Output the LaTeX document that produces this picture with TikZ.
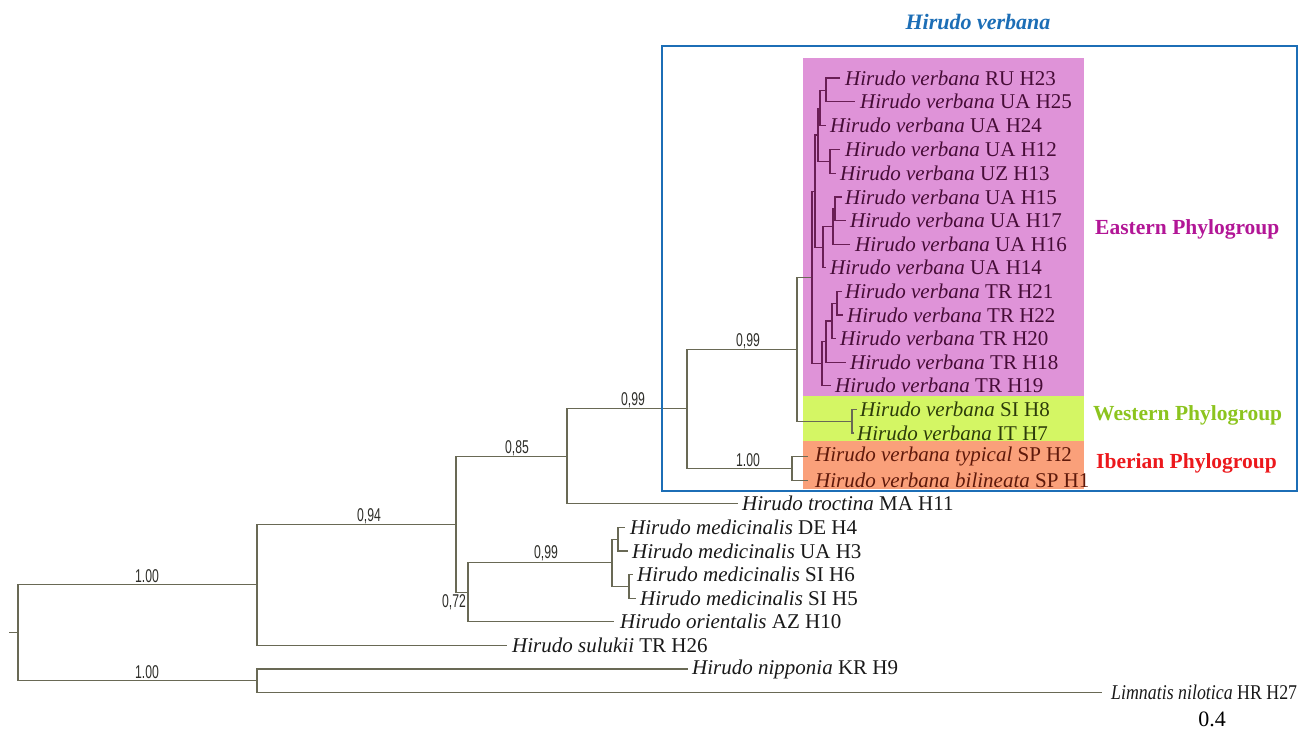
\documentclass[tikz,border=0pt]{standalone}
\usepackage{graphicx}
\usepackage{fontspec}
\setmainfont{Liberation Serif}
\newfontfamily\numfont{Liberation Sans}[FakeStretch=0.66]
\definecolor{treegray}{RGB}{105,105,85}
\definecolor{epurple}{RGB}{105,30,85}
\definecolor{pinkbg}{RGB}{223,147,216}
\definecolor{greenbg}{RGB}{212,246,100}
\definecolor{orangebg}{RGB}{250,160,122}
\definecolor{etext}{RGB}{70,12,55}
\definecolor{wtext}{RGB}{45,60,10}
\definecolor{itext}{RGB}{95,25,10}
\definecolor{framblue}{RGB}{28,110,182}
\definecolor{eastc}{RGB}{178,22,150}
\definecolor{westc}{RGB}{140,196,30}
\definecolor{iberc}{RGB}{236,24,28}
\definecolor{numgray}{RGB}{45,45,40}
\newcommand{\hv}{\textit{Hirudo verbana}}
\newcommand{\hm}{\textit{Hirudo medicinalis}}
\newcommand{\lf}{\fontsize{21}{21}\selectfont}
\begin{document}
\begin{tikzpicture}[x=1pt,y=-1pt,
  tree/.style={draw=treegray,line width=1.2pt},
  etree/.style={draw=epurple,line width=1.2pt},
  leaf/.style={anchor=west,inner sep=0pt,font=\lf,text=black!90},
  eleaf/.style={leaf,text=etext},
  wleaf/.style={leaf,text=wtext},
  ileaf/.style={leaf,text=itext},
  supp/.style={font=\numfont\fontsize{18.5}{18.5}\selectfont,text=numgray,inner sep=0pt},
  grouplab/.style={anchor=west,inner sep=0pt,font=\bfseries\fontsize{21.5}{21.5}\selectfont}]
\useasboundingbox (0,0) rectangle (1311,731);
% backgrounds
\fill[pinkbg] (803,58) rectangle (1084,396);
\fill[greenbg] (803,396) rectangle (1084,441);
\fill[orangebg] (803,441) rectangle (1084,489);
\node[inner sep=0pt,font=\bfseries\itshape\fontsize{22}{22}\selectfont,text=framblue] (title) at (978,22) {Hirudo verbana};
% leaves
\node[eleaf] (h23) at (845,78.0) {\hv{} RU H23};
\node[eleaf] (h25) at (860,101.8) {\hv{} UA H25};
\node[eleaf] (h24) at (830,125.6) {\hv{} UA H24};
\node[eleaf] (h12) at (845,149.4) {\hv{} UA H12};
\node[eleaf] (h13) at (840,173.2) {\hv{} UZ H13};
\node[eleaf] (h15) at (845,197.0) {\hv{} UA H15};
\node[eleaf] (h17) at (850,220.6) {\hv{} UA H17};
\node[eleaf] (h16) at (855,244.2) {\hv{} UA H16};
\node[eleaf] (h14) at (830,267.8) {\hv{} UA H14};
\node[eleaf] (h21) at (845,291.4) {\hv{} TR H21};
\node[eleaf] (h22) at (847,315.0) {\hv{} TR H22};
\node[eleaf] (h20) at (840,338.6) {\hv{} TR H20};
\node[eleaf] (h18) at (850,362.2) {\hv{} TR H18};
\node[eleaf] (h19) at (835,385.8) {\hv{} TR H19};
\node[wleaf] (h8) at (860,409.4) {\hv{} SI H8};
\node[wleaf] (h7) at (857,433.0) {\hv{} IT H7};
\node[ileaf] (h2) at (815,456.6) {\hv{} \textit{typical} SP H2};
\node[ileaf] (h1) at (815,480.2) {\hv{} \textit{bilineata} SP H1};
\node[leaf] (h11) at (742,503.8) {\textit{Hirudo troctina} MA H11};
\node[leaf] (h4) at (630,527.4) {\hm{} DE H4};
\node[leaf] (h3) at (632,551.0) {\hm{} UA H3};
\node[leaf] (h6) at (637,574.6) {\hm{} SI H6};
\node[leaf] (h5) at (640,598.2) {\hm{} SI H5};
\node[leaf] (h10) at (620,621.8) {\textit{Hirudo orientalis} AZ H10};
\node[leaf] (h26) at (512,645.4) {\textit{Hirudo sulukii} TR H26};
\node[leaf] (h9) at (692,669.0) {\textit{Hirudo nipponia} KR H9};
\node[leaf] (h27) at (1111,692.6) {\scalebox{0.85}[1]{\textit{Limnatis nilotica} HR H27}};
% internal nodes
\coordinate (stub) at (9,632.8);
\coordinate (root) at (18,632.8);
\coordinate (na) at (257,584.85);
\coordinate (nb) at (257,680.8);
\coordinate (n456) at (456,524.3);
\coordinate (n567) at (567,456.3);
\coordinate (n468) at (468,592.3);
\coordinate (n612) at (612,562.8);
\coordinate (m2a) at (618,539.2);
\coordinate (m2b) at (629,586.4);
\coordinate (n687) at (687,408.85);
\coordinate (n797) at (797,349.3);
\coordinate (ib) at (792,468.4);
\coordinate (we) at (852,421.2);
\coordinate (E) at (812,277.4);
\coordinate (U) at (815,191.1);
\coordinate (U1) at (818,135.05);
\coordinate (A) at (820,108.5);
\coordinate (AA) at (826,90.8);
\coordinate (B) at (830,161.6);
\coordinate (U2) at (823,247.15);
\coordinate (C) at (833,226.5);
\coordinate (CC) at (835,208.8);
\coordinate (L) at (822,363.7);
\coordinate (L1) at (826,341.55);
\coordinate (L2) at (832,320.9);
\coordinate (L3) at (837,303.2);
% gray tree
\draw[tree] (stub) -- (root);
\draw[tree] (root) |- (na);
\draw[tree] (root) |- (nb);
\draw[tree] (na) |- (n456);
\draw[tree] (na) |- ([xshift=-5pt]h26.west);
\draw[tree] (nb) |- ([xshift=-4pt]h9.west);
\draw[tree] (nb) |- ([xshift=-9pt]h27.west);
\draw[tree] (n456) |- (n567);
\draw[tree] (n456) |- (n468);
\draw[tree] (n567) |- (n687);
\draw[tree] (n567) |- ([xshift=-4pt]h11.west);
\draw[tree] (n468) |- (n612);
\draw[tree] (n468) |- ([xshift=-6pt]h10.west);
\draw[tree] (n612) |- (m2a);
\draw[tree] (n612) |- (m2b);
\draw[tree] (m2a) |- ([xshift=-5pt]h4.west);
\draw[tree] (m2a) |- ([xshift=-4pt]h3.west);
\draw[tree] (m2b) |- ([xshift=-4pt]h6.west);
\draw[tree] (m2b) |- ([xshift=-4pt]h5.west);
\draw[tree] (n687) |- (n797);
\draw[tree] (n687) |- (ib);
\draw[tree] (ib) |- ([xshift=-7pt]h2.west);
\draw[tree] (ib) |- ([xshift=-7pt]h1.west);
\draw[tree] (n797) |- (E);
\draw[tree] (n797) |- (we);
\draw[tree] (we) |- ([xshift=-3pt]h8.west);
\draw[tree] (we) |- ([xshift=-3pt]h7.west);
% eastern subtree
\draw[etree] (E) |- (U);
\draw[etree] (E) |- (L);
\draw[etree] (U) |- (U1);
\draw[etree] (U) |- (U2);
\draw[etree] (U1) |- (A);
\draw[etree] (U1) |- (B);
\draw[etree] (A) |- (AA);
\draw[etree] (A) |- ([xshift=-4pt]h24.west);
\draw[etree] (AA) |- ([xshift=-5pt]h23.west);
\draw[etree] (AA) |- ([xshift=-5pt]h25.west);
\draw[etree] (B) |- ([xshift=-5pt]h12.west);
\draw[etree] (B) |- ([xshift=-4pt]h13.west);
\draw[etree] (U2) |- (C);
\draw[etree] (U2) |- ([xshift=-4pt]h14.west);
\draw[etree] (C) |- (CC);
\draw[etree] (C) |- ([xshift=-5pt]h16.west);
\draw[etree] (CC) |- ([xshift=-3pt]h15.west);
\draw[etree] (CC) |- ([xshift=-4pt]h17.west);
\draw[etree] (L) |- (L1);
\draw[etree] (L) |- ([xshift=-4pt]h19.west);
\draw[etree] (L1) |- (L2);
\draw[etree] (L1) |- ([xshift=-4pt]h18.west);
\draw[etree] (L2) |- (L3);
\draw[etree] (L2) |- ([xshift=-4pt]h20.west);
\draw[etree] (L3) |- ([xshift=-3pt]h21.west);
\draw[etree] (L3) |- ([xshift=-4pt]h22.west);
% support values
\node[supp] (s1) at (147,576) {1.00};
\node[supp] (s2) at (147,672) {1.00};
\node[supp] (s3) at (369,516) {0,94};
\node[supp] (s4) at (517,448) {0,85};
\node[supp] (s5) at (633,400) {0,99};
\node[supp] (s6) at (748,341) {0,99};
\node[supp] (s7) at (748,460) {1.00};
\node[supp] (s8) at (546,553) {0,99};
\node[supp] (s9) at (454,602) {0,72};
% frame and group labels
\draw[framblue,line width=2.6pt] (662,46) rectangle (1297,491);
\node[grouplab,text=eastc] (ge) at (1095,229) {Eastern Phylogroup};
\node[grouplab,text=westc] (gw) at (1093,415) {Western Phylogroup};
\node[grouplab,text=iberc] (gi) at (1096,463) {Iberian Phylogroup};
\node[inner sep=0pt,font=\fontsize{22}{22}\selectfont] (scale) at (1212,719) {0.4};
\end{tikzpicture}
\end{document}
